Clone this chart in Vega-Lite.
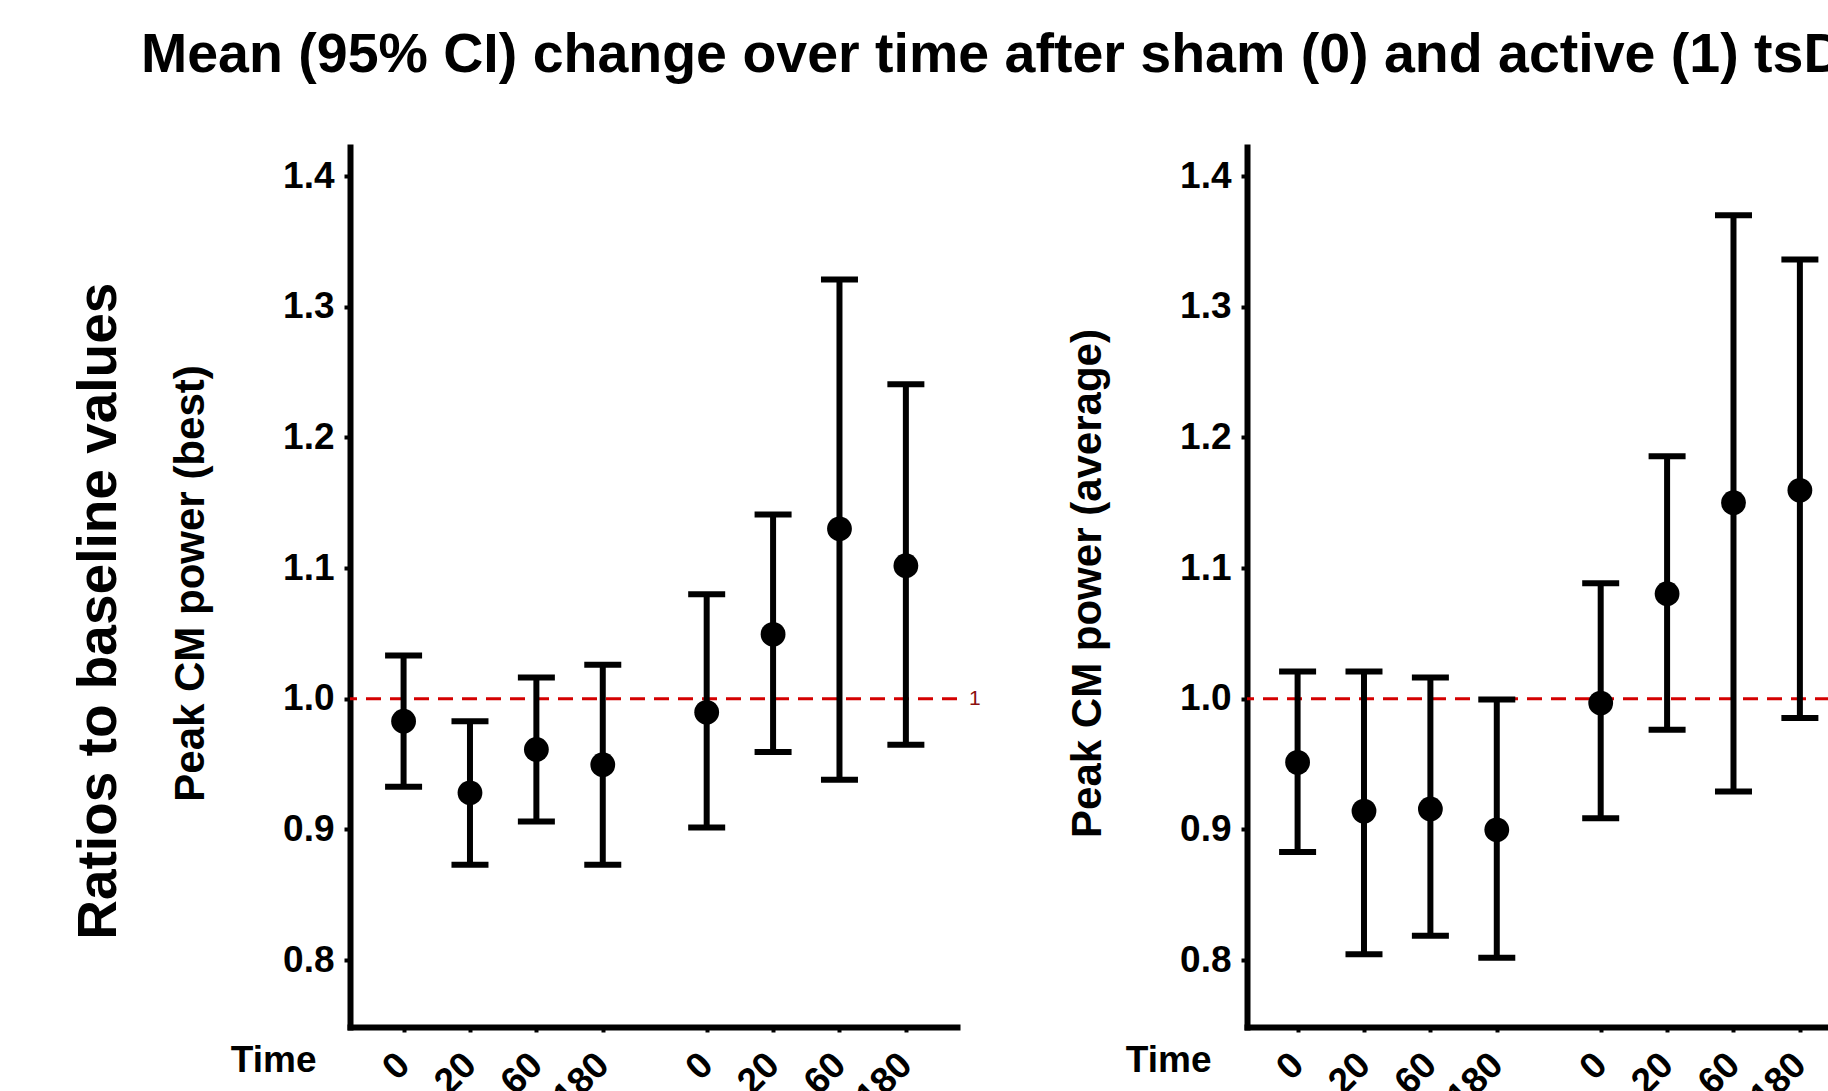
{
  "$schema": "https://vega.github.io/schema/vega-lite/v6.json",
  "background": "white",
  "padding": {"left": 71, "top": 28, "right": 0, "bottom": 0},
  "config": {"view": {"stroke": null}, "font": "Liberation Sans"},
  "datasets": {
    "left": [
      {"pos": 1, "mean": 0.9828, "lo": 0.9327, "hi": 1.0330},
      {"pos": 2, "mean": 0.928, "lo": 0.873, "hi": 0.9828},
      {"pos": 3, "mean": 0.9612, "lo": 0.906, "hi": 1.0162},
      {"pos": 4, "mean": 0.9495, "lo": 0.873, "hi": 1.026},
      {"pos": 5.565, "mean": 0.9896, "lo": 0.9015, "hi": 1.080},
      {"pos": 6.565, "mean": 1.0493, "lo": 0.9593, "hi": 1.141},
      {"pos": 7.565, "mean": 1.130, "lo": 0.938, "hi": 1.3208},
      {"pos": 8.565, "mean": 1.1018, "lo": 0.9647, "hi": 1.2407}
    ],
    "right": [
      {"pos": 1, "mean": 0.9513, "lo": 0.8828, "hi": 1.0208},
      {"pos": 2, "mean": 0.914, "lo": 0.8044, "hi": 1.0208},
      {"pos": 3, "mean": 0.9157, "lo": 0.8187, "hi": 1.0163},
      {"pos": 4, "mean": 0.8997, "lo": 0.8018, "hi": 0.9994},
      {"pos": 5.565, "mean": 0.9967, "lo": 0.9086, "hi": 1.0884},
      {"pos": 6.565, "mean": 1.0804, "lo": 0.9763, "hi": 1.1855},
      {"pos": 7.565, "mean": 1.150, "lo": 0.929, "hi": 1.370},
      {"pos": 8.565, "mean": 1.1595, "lo": 0.9853, "hi": 1.3362}
    ],
    "ref": [{"y": 1, "label": "1"}]
  },
  "title": {
    "text": "Mean (95% CI) change over time after sham (0) and active (1) tsDCS",
    "anchor": "start",
    "frame": "group",
    "fontSize": 55.5,
    "fontWeight": "bold",
    "font": "Liberation Sans",
    "color": "black",
    "offset": 63.5,
    "dx": -209
  },
  "hconcat": [
    {
      "title": {
        "text": "Ratios to baseline values",
        "orient": "left",
        "anchor": "middle",
        "fontSize": 55,
        "fontWeight": "bold",
        "font": "Liberation Sans",
        "color": "black",
        "offset": 41,
        "dx": 20
      },
      "bounds": "flush",
      "spacing": 290,
      "hconcat": [
        {
          "width": 607,
          "height": 880,
          "layer": [
            {
              "data": {"name": "ref"},
              "mark": {"type": "rule", "color": "#d40000", "strokeWidth": 3, "strokeDash": [15, 9]},
              "encoding": {"y": {"field": "y", "type": "quantitative"}}
            },
            {
              "data": {"name": "ref"},
              "mark": {"type": "text", "color": "#8b1010", "fontSize": 21, "align": "left", "baseline": "middle", "dx": 12},
              "encoding": {
                "x": {"datum": 9.335, "type": "quantitative"},
                "y": {"field": "y", "type": "quantitative"},
                "text": {"field": "label"}
              }
            },
            {
              "data": {"name": "left"},
              "mark": {"type": "rule", "color": "black", "strokeWidth": 6},
              "encoding": {
                "x": {"field": "pos", "type": "quantitative"},
                "y": {"field": "lo", "type": "quantitative"},
                "y2": {"field": "hi"}
              }
            },
            {
              "data": {"name": "left"},
              "mark": {"type": "tick", "color": "black", "orient": "horizontal", "size": 37, "thickness": 6, "opacity": 1},
              "encoding": {
                "x": {"field": "pos", "type": "quantitative"},
                "y": {"field": "lo", "type": "quantitative"}
              }
            },
            {
              "data": {"name": "left"},
              "mark": {"type": "tick", "color": "black", "orient": "horizontal", "size": 37, "thickness": 6, "opacity": 1},
              "encoding": {
                "x": {"field": "pos", "type": "quantitative"},
                "y": {"field": "hi", "type": "quantitative"}
              }
            },
            {
              "data": {"name": "left"},
              "mark": {"type": "point", "shape": "circle", "filled": true, "color": "black", "size": 615, "opacity": 1},
              "encoding": {
                "x": {
                  "field": "pos", "type": "quantitative",
                  "scale": {"domain": [0.193, 9.335], "nice": false, "zero": false},
                  "axis": {
                    "values": [1, 2, 3, 4, 5.565, 6.565, 7.565, 8.565],
                    "labelExpr": "['0','20','60','180','0','20','60','180'][indexof([1,2,3,4,5.565,6.565,7.565,8.565], datum.value)]",
                    "labelAngle": -45, "labelAlign": "right", "labelBaseline": "middle",
                    "labelFontSize": 37, "labelFontWeight": "bold", "labelColor": "black",
                    "labelPadding": 27, "labelFlush": false, "labelOverlap": false, "labelBound": false,
                    "title": "Time", "titleX": -34, "titleY": 44, "titleAlign": "right", "titleBaseline": "alphabetic", "titleAngle": 0,
                    "titleFontSize": 37, "titleFontWeight": "bold", "titleColor": "black",
                    "grid": false, "domainWidth": 6, "domainColor": "black", "domainCap": "square",
                    "tickWidth": 4, "tickSize": 5, "tickColor": "black"
                  }
                },
                "y": {
                  "field": "mean", "type": "quantitative",
                  "scale": {"domain": [0.7488, 1.4222], "nice": false, "zero": false},
                  "axis": {
                    "values": [0.8, 0.9, 1.0, 1.1, 1.2, 1.3, 1.4],
                    "format": ".1f",
                    "labelFontSize": 37, "labelFontWeight": "bold", "labelColor": "black", "labelPadding": 10,
                    "labelBaseline": "middle",
                    "title": "Peak CM power (best)", "titleFontSize": 42, "titleFontWeight": "bold", "titleColor": "black",
                    "titleX": -160, "titleY": 436, "titleAngle": -90, "titleBaseline": "middle", "titleAlign": "center",
                    "grid": false, "domainWidth": 6, "domainColor": "black", "domainCap": "square",
                    "tickWidth": 4, "tickSize": 6, "tickColor": "black"
                  }
                }
              }
            }
          ]
        },
        {
          "width": 607,
          "height": 880,
          "layer": [
            {
              "data": {"name": "ref"},
              "mark": {"type": "rule", "color": "#d40000", "strokeWidth": 3, "strokeDash": [15, 9]},
              "encoding": {"y": {"field": "y", "type": "quantitative"}}
            },
            {
              "data": {"name": "ref"},
              "mark": {"type": "text", "color": "#8b1010", "fontSize": 21, "align": "left", "baseline": "middle", "dx": 12},
              "encoding": {
                "x": {"datum": 9.38, "type": "quantitative"},
                "y": {"field": "y", "type": "quantitative"},
                "text": {"field": "label"}
              }
            },
            {
              "data": {"name": "right"},
              "mark": {"type": "rule", "color": "black", "strokeWidth": 6},
              "encoding": {
                "x": {"field": "pos", "type": "quantitative"},
                "y": {"field": "lo", "type": "quantitative"},
                "y2": {"field": "hi"}
              }
            },
            {
              "data": {"name": "right"},
              "mark": {"type": "tick", "color": "black", "orient": "horizontal", "size": 37, "thickness": 6, "opacity": 1},
              "encoding": {
                "x": {"field": "pos", "type": "quantitative"},
                "y": {"field": "lo", "type": "quantitative"}
              }
            },
            {
              "data": {"name": "right"},
              "mark": {"type": "tick", "color": "black", "orient": "horizontal", "size": 37, "thickness": 6, "opacity": 1},
              "encoding": {
                "x": {"field": "pos", "type": "quantitative"},
                "y": {"field": "hi", "type": "quantitative"}
              }
            },
            {
              "data": {"name": "right"},
              "mark": {"type": "point", "shape": "circle", "filled": true, "color": "black", "size": 615, "opacity": 1},
              "encoding": {
                "x": {
                  "field": "pos", "type": "quantitative",
                  "scale": {"domain": [0.238, 9.38], "nice": false, "zero": false},
                  "axis": {
                    "values": [1, 2, 3, 4, 5.565, 6.565, 7.565, 8.565],
                    "labelExpr": "['0','20','60','180','0','20','60','180'][indexof([1,2,3,4,5.565,6.565,7.565,8.565], datum.value)]",
                    "labelAngle": -45, "labelAlign": "right", "labelBaseline": "middle",
                    "labelFontSize": 37, "labelFontWeight": "bold", "labelColor": "black",
                    "labelPadding": 27, "labelFlush": false, "labelOverlap": false, "labelBound": false,
                    "title": "Time", "titleX": -36, "titleY": 44, "titleAlign": "right", "titleBaseline": "alphabetic", "titleAngle": 0,
                    "titleFontSize": 37, "titleFontWeight": "bold", "titleColor": "black",
                    "grid": false, "domainWidth": 6, "domainColor": "black", "domainCap": "square",
                    "tickWidth": 4, "tickSize": 5, "tickColor": "black"
                  }
                },
                "y": {
                  "field": "mean", "type": "quantitative",
                  "scale": {"domain": [0.7488, 1.4222], "nice": false, "zero": false},
                  "axis": {
                    "values": [0.8, 0.9, 1.0, 1.1, 1.2, 1.3, 1.4],
                    "format": ".1f",
                    "labelFontSize": 37, "labelFontWeight": "bold", "labelColor": "black", "labelPadding": 10,
                    "labelBaseline": "middle",
                    "title": "Peak CM power (average)", "titleFontSize": 42, "titleFontWeight": "bold", "titleColor": "black",
                    "titleX": -160, "titleY": 436, "titleAngle": -90, "titleBaseline": "middle", "titleAlign": "center",
                    "grid": false, "domainWidth": 6, "domainColor": "black", "domainCap": "square",
                    "tickWidth": 4, "tickSize": 6, "tickColor": "black"
                  }
                }
              }
            }
          ]
        }
      ]
    }
  ]
}
